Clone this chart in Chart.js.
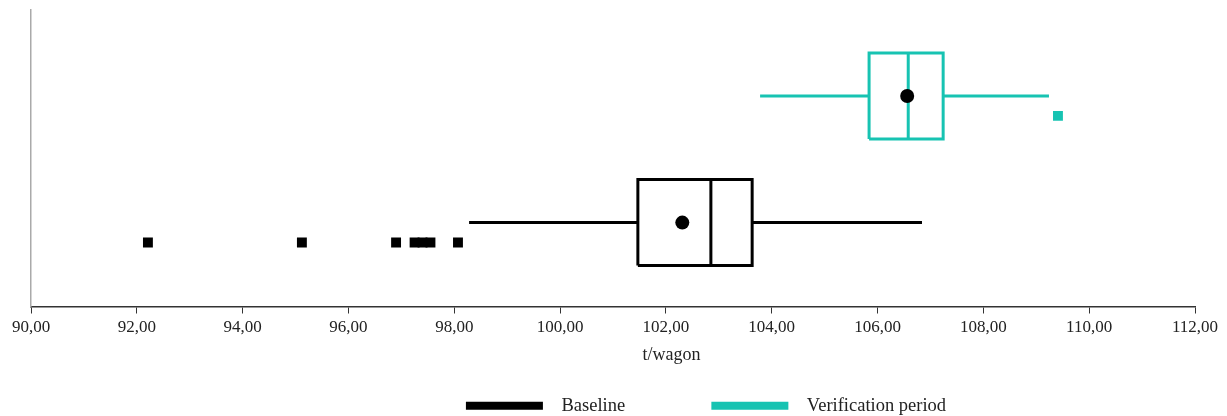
<!DOCTYPE html>
<html>
<head>
<meta charset="utf-8">
<script src="https://cdn.jsdelivr.net/npm/chart.js@4.4.1/dist/chart.umd.min.js"></script>
<style>
  html, body { margin: 0; padding: 0; background: #fff; }
  #wrap { width: 1227px; height: 416px; }
</style>
</head>
<body>
<div id="wrap"><canvas id="box-chart"></canvas></div>
<script>
// box stats
const seriesNames = ["Baseline", "Verification period"];
const seriesColors = ["#000000", "#17c3b2"];
const lowWhisker = [98.28, 103.78];
const q1 = [101.47, 105.84];
const median = [102.85, 106.58];
const q3 = [103.63, 107.24];
const highWhisker = [106.84, 109.24];
const means = [102.31, 106.56];
const outliers = [
  [92.21, 95.12, 96.90, 97.25, 97.40, 97.55, 98.07],
  [109.41]
];
const rowPos = [2.83, 7.10];   // vertical centre of each box
const xTicks = [90, 92, 94, 96, 98, 100, 102, 104, 106, 108, 110, 112];

const boxHalf = 1.45;
const outlierDrop = 0.67;

const datasets = [];
seriesNames.forEach(function (name, i) {
  var c = rowPos[i], col = seriesColors[i];
  var line = { borderColor: col, backgroundColor: col, borderWidth: 3, pointRadius: 0,
    showLine: true, fill: false, tension: 0, order: 2 };
  datasets.push(Object.assign({ label: name, data: [
    { x: q1[i], y: c - boxHalf }, { x: q3[i], y: c - boxHalf },
    { x: q3[i], y: c + boxHalf }, { x: q1[i], y: c + boxHalf },
    { x: q1[i], y: c - boxHalf }] }, line));
  datasets.push(Object.assign({ label: "_median" + i, data: [
    { x: median[i], y: c - boxHalf }, { x: median[i], y: c + boxHalf }] }, line));
  datasets.push(Object.assign({ label: "_wlo" + i, data: [
    { x: lowWhisker[i], y: c }, { x: q1[i], y: c }] }, line));
  datasets.push(Object.assign({ label: "_whi" + i, data: [
    { x: q3[i], y: c }, { x: highWhisker[i], y: c }] }, line));
  datasets.push({ label: "_mean" + i, data: [{ x: means[i], y: c }], showLine: false,
    pointRadius: 7, pointHoverRadius: 7, pointBackgroundColor: "#000", pointBorderWidth: 0, order: 1 });
  datasets.push({ label: "_out" + i, data: outliers[i].map(function (v) { return { x: v, y: c - outlierDrop }; }),
    showLine: false, pointStyle: "rect", pointRadius: 7, pointHoverRadius: 7,
    pointBackgroundColor: col, pointBorderWidth: 0, order: 1 });
});

const serif = "'Liberation Serif', 'Times New Roman', serif";

// legend sits right of centre and lower in the original
const shiftLegend = {
  id: "shiftLegend",
  afterLayout: function (ch) {
    ch.legend.left += 97;
    ch.legend.right += 97;
    ch.legend.top += 9;
    ch.legend.bottom += 9;
  }
};

const chart = new Chart(document.getElementById("box-chart"), {
  type: "scatter",
  data: { datasets: datasets },
  plugins: [shiftLegend],
  options: {
    responsive: true,
    maintainAspectRatio: false,
    animation: false,
    layout: { padding: { left: 23, right: 32, top: 10, bottom: 0 } },
    scales: {
      x: {
        type: "linear",
        min: 90,
        max: 112,
        afterBuildTicks: function (axis) { axis.ticks = xTicks.map(function (v) { return { value: v }; }); },
        ticks: {
          color: "#222",
          font: { family: serif, size: 17 },
          padding: 4,
          maxRotation: 0,
          callback: function (v) { return Number(v).toFixed(2).replace(".", ","); }
        },
        grid: { drawOnChartArea: false, color: "#333", tickLength: 7, lineWidth: 1 },
        border: { color: "#333", width: 1.5 },
        title: { display: true, text: " ".repeat(26) + "t/wagon", color: "#222", font: { family: serif, size: 18 }, padding: { top: 3, bottom: 18 } }
      },
      y: {
        type: "linear",
        min: 0,
        max: 10,
        ticks: { display: false },
        grid: { display: false },
        border: { color: "#aaa", width: 1.5 }
      }
    },
    plugins: {
      tooltip: { enabled: false },
      legend: {
        position: "bottom",
        labels: {
          color: "#222",
          font: { family: serif, size: 18.5 },
          boxWidth: 77,
          boxHeight: 8,
          padding: 3,
          generateLabels: function (ch) {
            return seriesNames.map(function (n, i) {
              var txt = "  " + n + (i === 0 ? " ".repeat(18) : "");
              return { text: txt, fillStyle: seriesColors[i], strokeStyle: seriesColors[i], lineWidth: 0,
                fontColor: "#222", datasetIndex: i * 6 };
            });
          }
        }
      }
    }
  }
});
</script>
</body>
</html>
